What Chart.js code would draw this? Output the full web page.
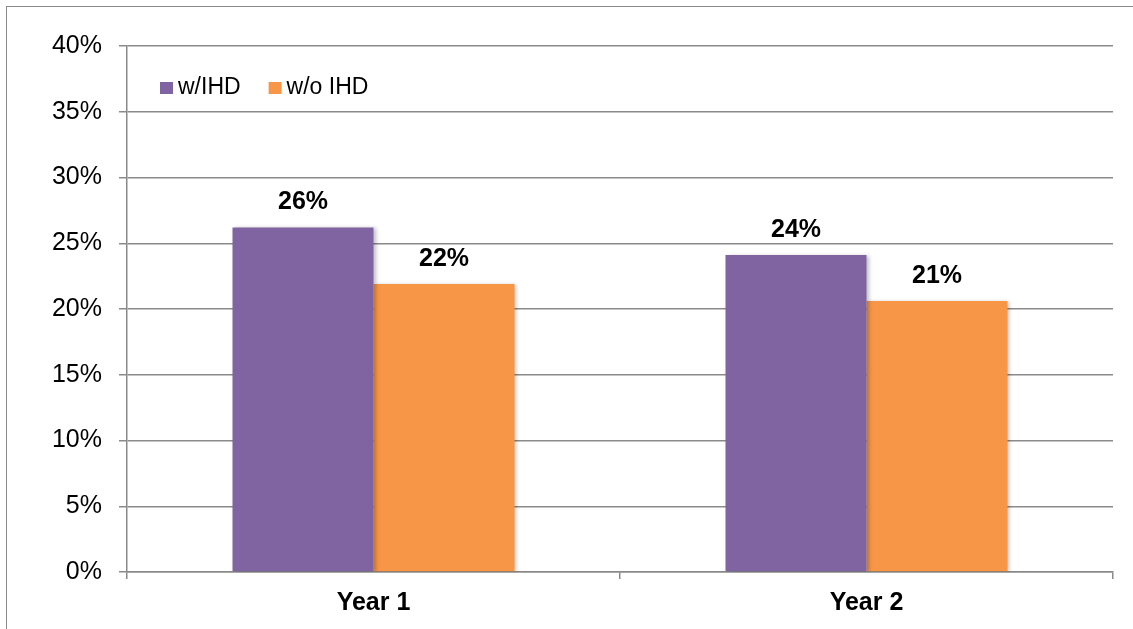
<!DOCTYPE html>
<html>
<head>
<meta charset="utf-8">
<script src="https://cdn.jsdelivr.net/npm/chart.js@4"></script>
<style>
  body { margin: 0; background: #fff; }
  #wrap { position: relative; width: 1133px; height: 629px; overflow: hidden; }
  #frame { position: absolute; left: 6px; top: 6px; width: 1140px; height: 640px;
           border-left: 1.5px solid #8a8a8a; border-top: 1.5px solid #8a8a8a; }
  canvas { position: absolute; left: 0; top: 0; }
</style>
</head>
<body>
<div id="wrap">
  <div id="frame"></div>
  <canvas id="canvas" width="1133" height="629"></canvas>
</div>
<script>
// data
var categories = ['Year 1', 'Year 2'];
var seriesNames = ['w/IHD', 'w/o IHD'];
var withIHD = [26.2, 24.1];
var withoutIHD = [21.9, 20.6];
var colors = ['#8064A2', '#F79646'];

var font = 'Liberation Sans, Arial, sans-serif';

// value labels above each bar
var valueLabels = {
    id: 'valueLabels',
    afterDatasetsDraw: function(chart){
        var ctx = chart.ctx;
        ctx.save();
        ctx.font = 'bold 25px ' + font;
        ctx.fillStyle = '#000';
        ctx.textAlign = 'center';
        ctx.textBaseline = 'alphabetic';
        chart.data.datasets.forEach(function(ds, i){
            chart.getDatasetMeta(i).data.forEach(function(bar, j){
                ctx.fillText(Math.round(ds.data[j]) + '%', bar.x, bar.y - 18);
            });
        });
        ctx.restore();
    }
};

// legend drawn inside the plot area, top left
var innerLegend = {
    id: 'innerLegend',
    afterDraw: function(chart){
        var ctx = chart.ctx;
        ctx.save();
        ctx.font = '23px ' + font;
        ctx.textBaseline = 'alphabetic';
        var x = 160;
        chart.data.datasets.forEach(function(ds){
            ctx.fillStyle = ds.backgroundColor;
            ctx.fillRect(x, 82, 13, 12);
            ctx.fillStyle = '#000';
            ctx.fillText(ds.label, x + 18, 94);
            x += 18 + ctx.measureText(ds.label).width + 28;
        });
        ctx.restore();
    }
};

// soft shadow on bars like the office chart
var barShadow = {
    id: 'barShadow',
    beforeDatasetsDraw: function(chart){
        var ctx = chart.ctx;
        ctx.save();
        ctx.shadowColor = 'rgba(0,0,0,0.25)';
        ctx.shadowBlur = 4;
        ctx.shadowOffsetX = 2;
        ctx.shadowOffsetY = 1;
    },
    afterDatasetsDraw: function(chart){
        chart.ctx.restore();
    }
};

var gridColor = '#8a8a8a';

const ctx = document.getElementById('canvas').getContext('2d');
const myChart = new Chart(ctx, {
    type: 'bar',
    data: {
        labels: categories,
        datasets: [{
            label: seriesNames[0],
            data: withIHD,
            backgroundColor: colors[0],
            categoryPercentage: 0.572,
            barPercentage: 1.0
        }, {
            label: seriesNames[1],
            data: withoutIHD,
            backgroundColor: colors[1],
            categoryPercentage: 0.572,
            barPercentage: 1.0
        }]
    },
    options: {
        responsive: false,
        animation: false,
        devicePixelRatio: 1,
        layout: {
            padding: { left: 0, right: 20, top: 46, bottom: 0 }
        },
        plugins: {
            legend: { display: false },
            tooltip: { enabled: false }
        },
        scales: {
            y: {
                min: 0,
                max: 40,
                ticks: {
                    stepSize: 5,
                    padding: 17,
                    color: '#000',
                    font: { family: font, size: 25 },
                    callback: function(v){ return v + '%'; }
                },
                grid: {
                    color: gridColor,
                    lineWidth: 1.5,
                    tickLength: 8
                },
                border: { color: gridColor, width: 1.5 },
                afterFit: function(scale){ scale.width = 127; }
            },
            x: {
                ticks: {
                    padding: 9,
                    color: '#000',
                    font: { family: font, size: 25, weight: 'bold' }
                },
                grid: {
                    offset: true,
                    drawOnChartArea: false,
                    color: gridColor,
                    lineWidth: 1.5,
                    tickLength: 7
                },
                border: { color: gridColor, width: 1.5 },
                afterFit: function(scale){ scale.height = 57; }
            }
        }
    },
    plugins: [barShadow, valueLabels, innerLegend]
});
</script>
</body>
</html>
